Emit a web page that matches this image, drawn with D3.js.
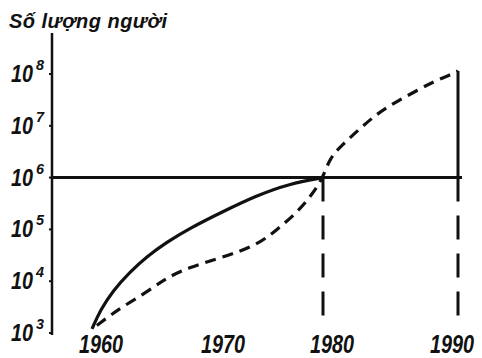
<!DOCTYPE html>
<html>
<head>
<meta charset="utf-8">
<script src="https://cdn.jsdelivr.net/npm/d3@7"></script>
<style>
  body { margin: 0; background: #fff; }
  svg { display: block; }
  .lbl { font-family: "Liberation Sans", sans-serif; font-style: italic; font-weight: bold; fill: #111; }
</style>
</head>
<body>
<div id="chart"></div>
<script>
// tick labels
var yearTicks = [1960, 1970, 1980, 1990];
var powerTicks = [3, 4, 5, 6, 7, 8];

// solid curve
var solidYears  = [1960, 1960.7, 1961.7, 1963.1, 1964.5, 1966.1, 1968, 1970.8, 1973.9, 1976.9, 1980];
var solidValues = [1.2e3, 2.8e3, 6.5e3, 1.5e4, 3.0e4, 5.6e4, 1.05e5, 2.2e5, 4.5e5, 7.6e5, 1e6];

// dashed curve
var dashYears  = [1960.4, 1961.5, 1962.5, 1964.5, 1966.1, 1967.8, 1970.8, 1973.9, 1975.7, 1977.8, 1979.1, 1980,
                  1980.5, 1981.4, 1982.7, 1984, 1985.3, 1986.9, 1988.3, 1989.6, 1990];
var dashValues = [1.4e3, 2.2e3, 3.2e3, 6.2e3, 1.15e4, 1.8e4, 2.9e4, 4.9e4, 9.5e4, 2.3e5, 5.1e5, 1e6,
                  2.4e6, 4.2e6, 8.7e6, 1.7e7, 2.8e7, 4.7e7, 7.4e7, 1e8, 1.15e8];

// reference level and drop lines
var levelValue = 1e6;
var dropYears = [1980, 1990];
var dropBottoms = [1.9e3, 1.4e3];

var w = 482, h = 358;
var axisX = 52;

var svg = d3.select("#chart").append("svg")
    .attr("width", w)
    .attr("height", h);

// hand drawn axis: decades are not evenly spaced
var x = d3.scaleLinear()
    .domain(yearTicks)
    .range([92, 214, 323, 458]);

var y = d3.scaleLog()
    .domain([1e3, 1e8])
    .range([333, 74]);

var line = d3.line()
    .x(function(d) { return x(d[0]); })
    .y(function(d) { return y(d[1]); })
    .curve(d3.curveBasis);

//y axis line
svg.append("line")
    .attr("x1", axisX).attr("x2", axisX)
    .attr("y1", 33).attr("y2", 335)
    .attr("stroke", "#111")
    .attr("stroke-width", 2.5);

svg.selectAll(".ytick")
    .data(powerTicks)
    .enter()
    .append("line")
    .attr("class", "ytick")
    .attr("x1", axisX - 3).attr("x2", axisX)
    .attr("y1", function(d) { return y(Math.pow(10, d)); })
    .attr("y2", function(d) { return y(Math.pow(10, d)); })
    .attr("stroke", "#111")
    .attr("stroke-width", 2);

// "10" with exponent
svg.selectAll(".ybase")
    .data(powerTicks)
    .enter()
    .append("text")
    .attr("class", "lbl")
    .attr("x", 11)
    .attr("y", function(d) { return y(Math.pow(10, d)) + 8; })
    .attr("textLength", 22)
    .attr("lengthAdjust", "spacingAndGlyphs")
    .style("font-size", "23px")
    .text("10");

svg.selectAll(".yexp")
    .data(powerTicks)
    .enter()
    .append("text")
    .attr("class", "lbl")
    .attr("x", 36)
    .attr("y", function(d) { return y(Math.pow(10, d)) - 4; })
    .attr("textLength", 8)
    .attr("lengthAdjust", "spacingAndGlyphs")
    .style("font-size", "15px")
    .text(function(d) { return d; });

// x labels (no axis line in the original)
svg.selectAll(".xlab")
    .data(yearTicks)
    .enter()
    .append("text")
    .attr("class", "lbl")
    .attr("x", function(d) { return Math.min(x(d) + 9, 452); })
    .attr("y", 353)
    .attr("text-anchor", "middle")
    .attr("textLength", 44)
    .attr("lengthAdjust", "spacingAndGlyphs")
    .style("font-size", "26px")
    .text(function(d) { return d; });

// title
svg.append("text")
    .attr("x", 9)
    .attr("y", 28)
    .attr("textLength", 158)
    .attr("lengthAdjust", "spacing")
    .style("font-family", "'Liberation Sans', sans-serif")
    .style("font-style", "italic")
    .style("font-weight", "bold")
    .style("font-size", "20px")
    .style("fill", "#111")
    .text("Số lượng người");

// horizontal level at 10^6
svg.append("line")
    .attr("x1", axisX).attr("x2", x(1990) + 4)
    .attr("y1", y(levelValue)).attr("y2", y(levelValue))
    .attr("stroke", "#111")
    .attr("stroke-width", 3);

// drop lines below the level
svg.selectAll(".drop")
    .data(dropYears)
    .enter()
    .append("line")
    .attr("x1", function(d) { return x(d); })
    .attr("x2", function(d) { return x(d); })
    .attr("y1", y(levelValue))
    .attr("y2", function(d, i) { return y(dropBottoms[i]); })
    .attr("stroke", "#111")
    .attr("stroke-width", 3)
    .attr("stroke-dasharray", "24,14");

// solid riser at 1990 up to the dashed curve end
svg.append("line")
    .attr("x1", x(1990)).attr("x2", x(1990))
    .attr("y1", y(levelValue))
    .attr("y2", y(dashValues[dashValues.length - 1]))
    .attr("stroke", "#111")
    .attr("stroke-width", 3);

// curves
svg.append("path")
    .datum(d3.zip(solidYears, solidValues))
    .attr("d", line)
    .attr("fill", "none")
    .attr("stroke", "#111")
    .attr("stroke-width", 3.2);

svg.append("path")
    .datum(d3.zip(dashYears, dashValues))
    .attr("d", line)
    .attr("fill", "none")
    .attr("stroke", "#111")
    .attr("stroke-width", 3.2)
    .attr("stroke-dasharray", "11,7");
</script>
</body>
</html>
